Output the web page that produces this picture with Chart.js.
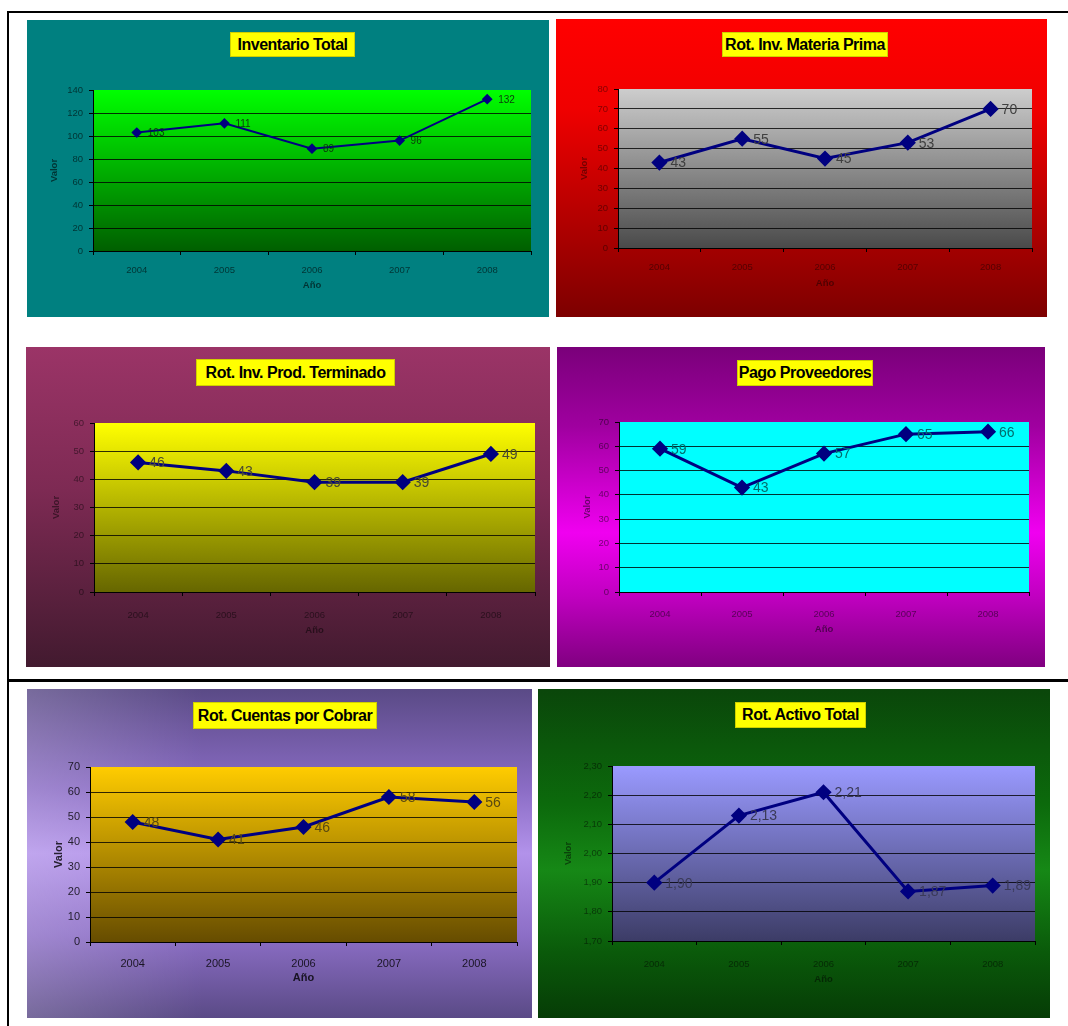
<!DOCTYPE html>
<html>
<head>
<meta charset="utf-8">
<script src="https://cdn.jsdelivr.net/npm/chart.js@4/dist/chart.umd.min.js"></script>
<style>
  body { margin: 0; background: #fff; width: 1068px; height: 1026px; position: relative; overflow: hidden;
         font-family: "Liberation Sans", Arial, sans-serif; }
  .panel { position: absolute; }
  .panel canvas { position: absolute; left: 0; top: 0; }
  .ttl { position: absolute; background: #ffff00; color: #000; font-weight: bold; font-size: 16px;
         letter-spacing: -0.5px; display: flex; align-items: center; justify-content: center;
         box-shadow: inset 0 0 0 1px rgba(120,120,0,0.35); white-space: nowrap; }
  .rule { position: absolute; background: #000; }
</style>
</head>
<body>
<div class="rule" style="left:7px;top:11px;width:1061px;height:2px"></div>
<div class="rule" style="left:7px;top:11px;width:2px;height:1015px"></div>
<div class="rule" style="left:7px;top:679px;width:1061px;height:3px"></div>

<script>
// Data
const years = ['2004', '2005', '2006', '2007', '2008'];
const inventarioTotal = [103, 111, 89, 96, 132];
const rotMateriaPrima = [43, 55, 45, 53, 70];
const rotProdTerminado = [46, 43, 39, 39, 49];
const pagoProveedores = [59, 43, 57, 65, 66];
const rotCuentasCobrar = [48, 41, 46, 58, 56];
const rotActivoTotal = [1.90, 2.13, 2.21, 1.87, 1.89];

// y axis ranges [min, max, step]
const rangeInventario = [0, 140, 20];
const rangeMateria = [0, 80, 10];
const rangeProd = [0, 60, 10];
const rangePago = [0, 70, 10];
const rangeCuentas = [0, 70, 10];
const rangeActivo = [1.7, 2.3, 0.1];

// Panel layout + style (box and plot as [left, top, right, bottom])
const panels = [
  { title: 'Inventario Total', data: inventarioTotal, range: rangeInventario, decimals: 0,
    box: [27, 20, 549, 317], plot: [93, 90, 531, 251], titleBox: [230, 32, 355, 57],
    bg: '#008080', plotStops: [[0, '#00ff00'], [1, '#005f00']],
    tickColor: 'rgba(0,0,0,0.6)', labelColor: '#0b3a0b', labelSize: 10, tickSize: 9.5,
    lineWidth: 2, radius: 4, xPad: 10, xTitlePad: 26, yTitlePad: 22 },
  { title: 'Rot. Inv. Materia Prima', data: rotMateriaPrima, range: rangeMateria, decimals: 0,
    box: [556, 19, 1047, 317], plot: [618, 89, 1032, 248], titleBox: [722, 32, 888, 57],
    bg: 'linear-gradient(#ff0000 0%, #f00000 30%, #7d0000 100%)',
    plotStops: [[0, '#cdcdcd'], [1, '#4a4a4a']],
    tickColor: 'rgba(0,0,0,0.45)', labelColor: '#404040', labelSize: 14, tickSize: 9.5,
    lineWidth: 3, radius: 6, xPad: 10, xTitlePad: 28, yTitlePad: 23 },
  { title: 'Rot. Inv. Prod. Terminado', data: rotProdTerminado, range: rangeProd, decimals: 0,
    box: [26, 347, 550, 667], plot: [94, 423, 535, 592], titleBox: [196, 359, 395, 386],
    bg: 'linear-gradient(#9b3467 0%, #7d2a53 45%, #421a2f 100%)',
    plotStops: [[0, '#ffff00'], [1, '#666600']],
    tickColor: 'rgba(0,0,0,0.5)', labelColor: '#4a4a30', labelSize: 14, tickSize: 9.5,
    lineWidth: 3, radius: 6, xPad: 14, xTitlePad: 31, yTitlePad: 25 },
  { title: 'Pago Proveedores', data: pagoProveedores, range: rangePago, decimals: 0,
    box: [557, 347, 1045, 667], plot: [619, 422, 1029, 592], titleBox: [737, 360, 873, 386],
    bg: 'linear-gradient(#7a007a 0%, #a000a0 25%, #f000f0 58%, #c000c0 78%, #800080 100%)',
    plotStops: [[0, '#00ffff'], [1, '#00ffff']],
    tickColor: 'rgba(0,0,0,0.5)', labelColor: '#006e6e', labelSize: 14, tickSize: 9.5,
    lineWidth: 3, radius: 6, xPad: 13, xTitlePad: 32, yTitlePad: 25 },
  { title: 'Rot. Cuentas por Cobrar', data: rotCuentasCobrar, range: rangeCuentas, decimals: 0,
    box: [27, 689, 532, 1018], plot: [90, 767, 517, 942], titleBox: [193, 702, 377, 729],
    bg: 'linear-gradient(to right, rgba(255,255,255,0.18), rgba(255,255,255,0) 35%), ' +
        'linear-gradient(#5a4a86 0%, #8a6cc4 30%, #b292ea 50%, #8c6ec6 75%, #5a4a86 100%)',
    plotStops: [[0, '#ffcc00'], [1, '#664c00']],
    tickColor: 'rgba(0,0,0,0.8)', labelColor: '#5a4a10', labelSize: 14, tickSize: 11,
    lineWidth: 3, radius: 6, xPad: 11, xTitlePad: 33, yTitlePad: 25 },
  { title: 'Rot. Activo Total', data: rotActivoTotal, range: rangeActivo, decimals: 2,
    box: [538, 689, 1050, 1018], plot: [612, 766, 1035, 941], titleBox: [735, 702, 866, 728],
    bg: 'linear-gradient(#0a460a 0%, #0c6a0c 35%, #168816 55%, #0a5a0a 80%, #063c06 100%)',
    plotStops: [[0, '#9a9aff'], [1, '#3c3c66']],
    tickColor: 'rgba(0,0,0,0.5)', labelColor: '#3a3a58', labelSize: 14, tickSize: 9.5,
    lineWidth: 3, radius: 6, xPad: 14, xTitlePad: 33, yTitlePad: 25 }
];

const fmt = (v, d) => d ? v.toFixed(d).replace('.', ',') : String(Math.round(v));

// Gradient fill behind the plot area
const plotBg = {
  id: 'plotBg',
  beforeDraw(chart, args, opts) {
    const { ctx, chartArea: a } = chart;
    const g = ctx.createLinearGradient(0, a.top, 0, a.bottom);
    opts.stops.forEach(s => g.addColorStop(s[0], s[1]));
    ctx.save();
    ctx.fillStyle = g;
    ctx.fillRect(a.left, a.top, a.right - a.left, a.bottom - a.top);
    ctx.restore();
  }
};

// Value labels to the right of each point
const valueLabels = {
  id: 'valueLabels',
  afterDatasetsDraw(chart, args, opts) {
    const { ctx } = chart;
    const meta = chart.getDatasetMeta(0);
    const values = chart.data.datasets[0].data;
    ctx.save();
    ctx.font = opts.size + 'px "Liberation Sans", Arial, sans-serif';
    ctx.fillStyle = opts.color;
    ctx.textAlign = 'left';
    ctx.textBaseline = 'middle';
    meta.data.forEach((pt, i) => {
      ctx.fillText(fmt(values[i], opts.decimals), pt.x + 11, pt.y + 1);
    });
    ctx.restore();
  }
};

panels.forEach(p => {
  const [bl, bt, br, bb] = p.box;
  const [pl, pt, pr, pb] = p.plot;
  const w = br - bl, h = bb - bt;

  const div = document.createElement('div');
  div.className = 'panel';
  div.style.cssText = `left:${bl}px;top:${bt}px;width:${w}px;height:${h}px;background:${p.bg}`;
  const canvas = document.createElement('canvas');
  canvas.width = w;
  canvas.height = h;
  div.appendChild(canvas);
  document.body.appendChild(div);

  const [tl, tt, tr, tb] = p.titleBox;
  const ttl = document.createElement('div');
  ttl.className = 'ttl';
  ttl.style.cssText = `left:${tl}px;top:${tt}px;width:${tr - tl}px;height:${tb - tt}px`;
  ttl.textContent = p.title;
  document.body.appendChild(ttl);

  const [yMin, yMax, yStep] = p.range;
  const axisFont = { family: '"Liberation Sans", Arial, sans-serif', size: p.tickSize };
  const titleFont = { family: '"Liberation Sans", Arial, sans-serif', size: p.tickSize, weight: 'bold' };

  new Chart(canvas, {
    type: 'line',
    data: {
      labels: years,
      datasets: [{
        data: p.data,
        borderColor: '#000080',
        backgroundColor: '#000080',
        borderWidth: p.lineWidth,
        pointStyle: 'rectRot',
        pointRadius: p.radius,
        pointBackgroundColor: '#000080',
        pointBorderColor: '#000080',
        tension: 0
      }]
    },
    options: {
      responsive: false,
      animation: false,
      layout: { autoPadding: false, padding: { left: 0, top: pt - bt, right: br - pr, bottom: 0 } },
      plugins: {
        legend: { display: false },
        tooltip: { enabled: false },
        plotBg: { stops: p.plotStops },
        valueLabels: { color: p.labelColor, size: p.labelSize, decimals: p.decimals }
      },
      scales: {
        x: {
          type: 'category',
          offset: true,
          afterFit: s => { s.height = bb - pb; },
          grid: { display: true, offset: true, drawOnChartArea: false, drawTicks: true, tickLength: 4, color: '#000' },
          border: { display: true, color: '#000', width: 1 },
          ticks: { color: p.tickColor, font: axisFont, padding: p.xPad, maxRotation: 0 },
          title: { display: true, text: 'Año', color: p.tickColor, font: titleFont, padding: { top: 0, bottom: p.xTitlePad } }
        },
        y: {
          min: yMin,
          max: yMax,
          afterFit: s => { s.width = pl - bl; },
          ticks: { stepSize: yStep, color: p.tickColor, font: axisFont, padding: 6,
                   callback: v => fmt(v, p.decimals) },
          grid: {
            drawTicks: true, tickLength: 4, tickColor: '#000', lineWidth: 1,
            color: c => (c.tick && c.tick.value >= yMax - 1e-9) ? 'rgba(0,0,0,0)' : 'rgba(0,0,0,0.8)'
          },
          border: { display: true, color: '#000', width: 1 },
          title: { display: true, text: 'Valor', color: p.tickColor, font: titleFont, padding: { top: p.yTitlePad, bottom: 0 } }
        }
      }
    },
    plugins: [plotBg, valueLabels]
  });
});
</script>
</body>
</html>
